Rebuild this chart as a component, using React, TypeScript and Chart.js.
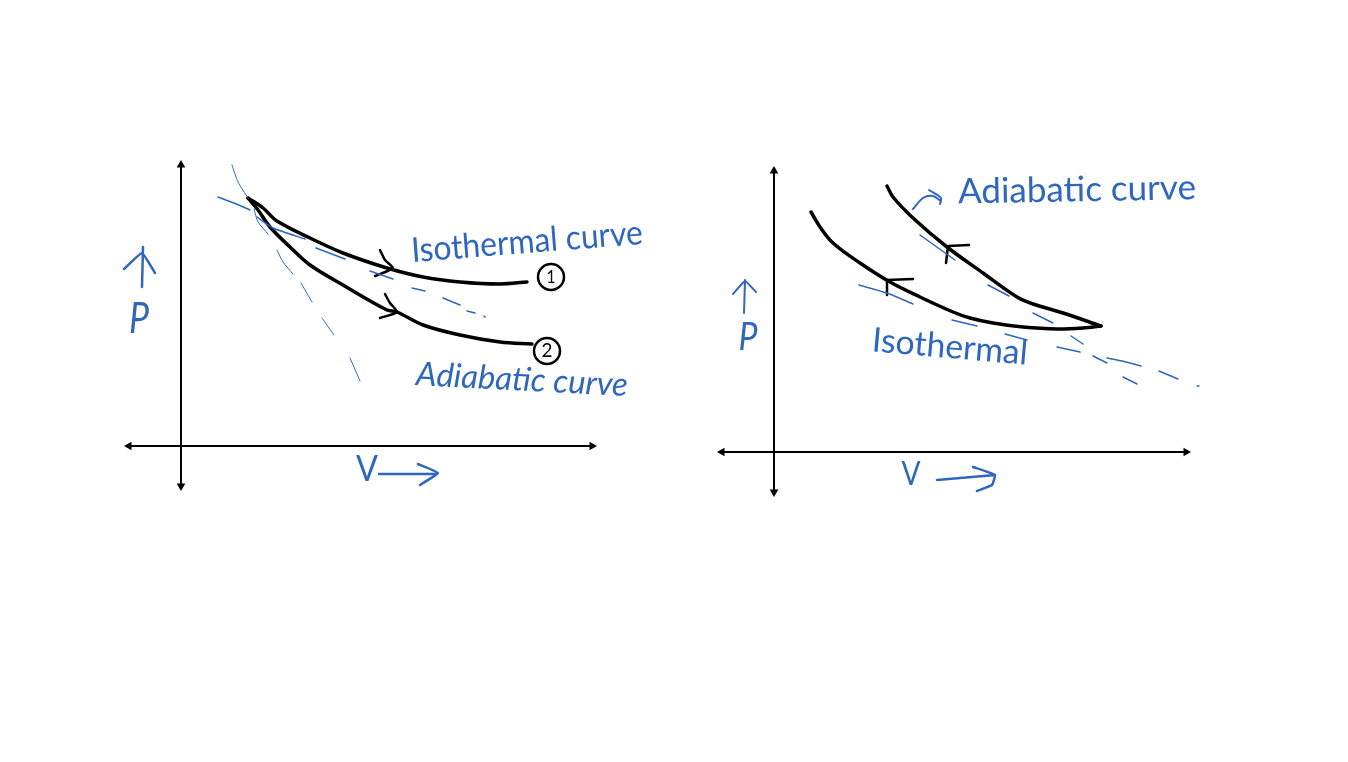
import React, { useEffect, useRef } from "react";
import { Chart, registerables } from "chart.js";

Chart.register(...registerables);

type Pt = [number, number] | null;

const BLUE = "#2f66be";
const BLACK = "#000000";

// ---- Left panel values (V, P relative to the axes' crossing) ----
const leftAxisV: Pt[] = [[-52, 0], [411, 0]];
const leftAxisP: Pt[] = [[0, 281], [0, -40]];
const leftIsothermal: Pt[] = [[67, 248], [82, 238], [96, 225], [129, 208], [162, 193], [206, 178], [242, 169], [279, 164], [319, 162], [346, 164]];
const leftAdiabatic: Pt[] = [[67, 248], [77, 236], [89, 219], [109, 199], [129, 181], [162, 161], [206, 136], [216, 134], [242, 121], [279, 111], [319, 104], [351, 102]];
const leftIsoArrow: Pt[] = [[199, 196], [204, 186], [212, 178], [194, 170]];
const leftAdiArrow: Pt[] = [[204, 152], [209, 143], [216, 134], [199, 128]];
const leftIsoGuide: Pt[] = [[37, 249], [53, 243], [69, 236], null, [76, 229], [92, 218], [124, 207], null, [135, 198], [164, 187], null, [189, 175], [212, 167], null, [231, 158], [244, 155], null, [262, 148], [279, 141], null, [286, 135], [294, 133], null, [303, 130], [304, 129]];
const leftAdiGuide: Pt[] = [[51, 281], [57, 264], [67, 248], null, [73, 237], [77, 224], [87, 212], null, [96, 196], [102, 184], [112, 172], null, [120, 163], [131, 144], null, [141, 128], [153, 111], null, [169, 88], [179, 65]];
const leftPArrow: Pt[] = [[-38, 199], [-39, 159], null, [-57, 177], [-39, 193], [-26, 173]];
const leftVArrow: Pt[] = [[198, -28], [256, -28], null, [237, -18], [257, -27], [239, -39]];
const leftStates: Pt[] = [[370, 169], [366, 95]];

// ---- Right panel values ----
const rightAxisV: Pt[] = [[-52, 0], [412, 0]];
const rightAxisP: Pt[] = [[0, 281], [0, -40]];
const rightIsothermal: Pt[] = [[37, 240], [46, 225], [59, 209], [86, 189], [116, 170], [146, 155], [179, 140], [196, 134], [219, 129], [249, 125], [283, 123], [309, 124], [327, 126]];
const rightAdiabatic: Pt[] = [[113, 266], [119, 255], [139, 234], [173, 205], [209, 179], [243, 155], [259, 148], [289, 139], [327, 126]];
const rightIsoArrow: Pt[] = [[113, 157], [113, 172], [139, 173]];
const rightAdiArrow: Pt[] = [[172, 189], [174, 206], [195, 207]];
const rightIsoGuide: Pt[] = [[85, 167], [113, 159], [139, 148], null, [178, 132], [203, 126], null, [231, 118], [253, 112], null, [283, 105], [306, 100], null, [333, 94], [348, 91], [367, 86], null, [385, 81], [404, 73], null, [423, 66], [425, 66]];
const rightAdiGuide: Pt[] = [[146, 217], [181, 192], null, [214, 167], [235, 156], null, [259, 139], [279, 129], null, [297, 116], [309, 108], null, [319, 96], [333, 89], null, [349, 75], [363, 68]];
const rightPArrow: Pt[] = [[-29, 172], [-30, 139], null, [-41, 158], [-29, 171], [-18, 160]];
const rightVArrow: Pt[] = [[163, -28], [221, -23], null, [199, -15], [221, -23], [218, -33], [203, -39]];
const rightPointer: Pt[] = [[139, 243], [149, 254], [159, 256], [167, 251], null, [155, 262], [167, 254], [166, 248]];

// ---- Text ----
type Label = { text: string; x: number; y: number; width: number; size: number; angle: number; color: string; italic?: boolean };
const leftLabels: Label[] = [
  { text: "Isothermal curve", x: 346, y: 204, width: 232, size: 34, angle: -4.5, color: BLUE },
  { text: "Adiabatic curve", x: 341, y: 66, width: 212, size: 33, angle: 3, color: BLUE, italic: true },
  { text: "P", x: -42, y: 127, width: 20, size: 42, angle: 0, color: BLUE, italic: true },
  { text: "V", x: 186, y: -23, width: 22, size: 36, angle: 0, color: BLUE },
  { text: "1", x: 370, y: 169, width: 9, size: 18, angle: 0, color: BLACK },
  { text: "2", x: 366, y: 95, width: 11, size: 19, angle: 0, color: BLACK },
];
const rightLabels: Label[] = [
  { text: "Adiabatic curve", x: 303, y: 262, width: 238, size: 35, angle: -1, color: BLUE },
  { text: "Isothermal", x: 176, y: 105, width: 156, size: 34, angle: 5, color: BLUE },
  { text: "P", x: -26, y: 114, width: 19, size: 38, angle: 0, color: BLUE, italic: true },
  { text: "V", x: 137, y: -23, width: 19, size: 32, angle: 0, color: BLUE },
];

const toData = (pts: Pt[]) => pts.map((p) => (p ? { x: p[0], y: p[1] } : { x: NaN, y: NaN }));

const stroke = (pts: Pt[], color: string, width: number, tension = 0.35) => ({
  data: toData(pts),
  borderColor: color,
  borderWidth: width,
  tension,
  pointRadius: 0,
  showLine: true,
  spanGaps: false,
  fill: false,
  borderCapStyle: "round" as const,
  borderJoinStyle: "round" as const,
});

const arrowHeads = (horizontal: Pt[], vertical: Pt[]) => ({
  data: toData([horizontal[1], horizontal[0], vertical[0], vertical[1]]),
  showLine: false,
  pointStyle: "triangle" as const,
  pointRadius: 5,
  pointRotation: [90, 270, 0, 180],
  pointBackgroundColor: BLACK,
  pointBorderColor: BLACK,
  pointBorderWidth: 0,
});

const circles = (pts: Pt[]) => ({
  data: toData(pts),
  showLine: false,
  pointStyle: "circle" as const,
  pointRadius: 13,
  pointBackgroundColor: "rgba(255,255,255,0)",
  pointBorderColor: BLACK,
  pointBorderWidth: 2.5,
});

const leftDatasets = () => [
  stroke(leftAxisV, BLACK, 2, 0),
  stroke(leftAxisP, BLACK, 2, 0),
  arrowHeads(leftAxisV, leftAxisP),
  stroke(leftIsoGuide, BLUE, 1.5, 0.2),
  stroke(leftAdiGuide, BLUE, 1, 0.2),
  stroke(leftIsothermal, BLACK, 3.5),
  stroke(leftAdiabatic, BLACK, 3.5),
  stroke(leftIsoArrow, BLACK, 2.5, 0.2),
  stroke(leftAdiArrow, BLACK, 2.5, 0.2),
  stroke(leftPArrow, BLUE, 2.5, 0.1),
  stroke(leftVArrow, BLUE, 2.5, 0.1),
  circles(leftStates),
];

const rightDatasets = () => [
  stroke(rightAxisV, BLACK, 2, 0),
  stroke(rightAxisP, BLACK, 2, 0),
  arrowHeads(rightAxisV, rightAxisP),
  stroke(rightIsoGuide, BLUE, 1.5, 0.2),
  stroke(rightAdiGuide, BLUE, 1.5, 0.2),
  stroke(rightIsothermal, BLACK, 3.5),
  stroke(rightAdiabatic, BLACK, 3.5),
  stroke(rightIsoArrow, BLACK, 2.5, 0),
  stroke(rightAdiArrow, BLACK, 2.5, 0),
  stroke(rightPArrow, BLUE, 2, 0.1),
  stroke(rightVArrow, BLUE, 2.5, 0.1),
  stroke(rightPointer, BLUE, 2, 0.3),
];

type PanelProps = {
  left: number;
  width: number;
  xRange: [number, number];
  yRange: [number, number];
  datasets: () => any[];
  labels: Label[];
};

function Panel({ left, width, xRange, yRange, datasets, labels }: PanelProps) {
  const ref = useRef<HTMLCanvasElement | null>(null);
  useEffect(() => {
    if (!ref.current) return;
    const labelPlugin = {
      id: "handLabels",
      afterDatasetsDraw(chart: any) {
        const { ctx, scales } = chart;
        for (const l of labels) {
          ctx.save();
          ctx.font = `${l.italic ? "italic " : ""}${l.size}px Lato`;
          ctx.fillStyle = l.color;
          ctx.textAlign = "center";
          ctx.textBaseline = "middle";
          const w = ctx.measureText(l.text).width;
          ctx.translate(scales.x.getPixelForValue(l.x), scales.y.getPixelForValue(l.y));
          ctx.rotate((l.angle * Math.PI) / 180);
          ctx.scale(l.width / w, 1);
          ctx.fillText(l.text, 0, 0);
          ctx.restore();
        }
      },
    };
    const chart = new Chart(ref.current, {
      type: "scatter",
      data: { datasets: datasets() },
      plugins: [labelPlugin],
      options: {
        animation: false,
        responsive: false,
        layout: { padding: 0, autoPadding: false },
        plugins: { legend: { display: false }, tooltip: { enabled: false } },
        scales: {
          x: { type: "linear", display: false, min: xRange[0], max: xRange[1] },
          y: { type: "linear", display: false, min: yRange[0], max: yRange[1] },
        },
      },
    } as any);
    return () => chart.destroy();
  }, []);
  return <canvas ref={ref} width={width} height={762} style={{ position: "absolute", left, top: 0, width, height: 762 }} />;
}

export default function App() {
  return (
    <div style={{ position: "absolute", left: 0, top: 0, width: 1348, height: 762, background: "#fff", overflow: "hidden" }}>
      <Panel left={0} width={670} xRange={[-181, 489]} yRange={[-316, 446]} datasets={leftDatasets} labels={leftLabels} />
      <Panel left={670} width={678} xRange={[-104, 574]} yRange={[-310, 452]} datasets={rightDatasets} labels={rightLabels} />
    </div>
  );
}
